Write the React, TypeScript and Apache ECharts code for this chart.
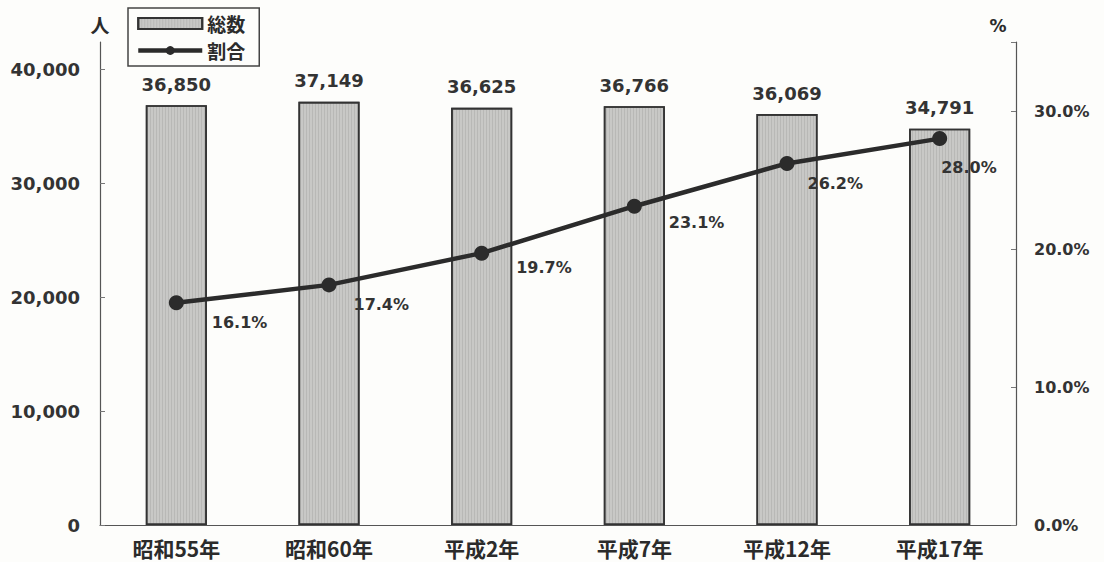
import React, { useEffect, useRef } from "react";
import * as echarts from "echarts";

const categories = ["昭和55年", "昭和60年", "平成2年", "平成7年", "平成12年", "平成17年"];
const totals = [36850, 37149, 36625, 36766, 36069, 34791];
const ratios = [16.1, 17.4, 19.7, 23.1, 26.2, 28.0];
const ratioLabelOffsets = [
  [28, 20],
  [17, 20],
  [27, 14],
  [27, 16],
  [13, 20],
  [-6, 29],
];

const CJK = "'Noto Sans CJK JP', 'Noto Sans', sans-serif";
const NUM = "'DejaVu Sans', 'Noto Sans', sans-serif";
const INK = "#2b2b2b";

export default function App() {
  const ref = useRef<HTMLDivElement>(null);
  useEffect(() => {
    document.body.style.margin = "0";
    const chart = echarts.init(ref.current!, null, { renderer: "svg" });
    chart.setOption({
      animation: false,
      backgroundColor: "#fdfdfb",
      textStyle: { fontFamily: NUM, color: INK },
      grid: { left: 100, right: 88, top: 42, bottom: 37 },
      legend: {
        left: 128,
        top: 8,
        orient: "vertical",
        borderColor: "#444",
        borderWidth: 1.5,
        padding: [6, 14, 6, 8],
        itemGap: 8,
        itemWidth: 64,
        itemHeight: 11,
        textStyle: { fontSize: 19, color: INK, fontFamily: CJK, fontWeight: "bold" },
        data: [
          { name: "総数", icon: "rect" },
          { name: "割合", lineStyle: { width: 4.5 } },
        ],
      },
      xAxis: {
        type: "category",
        data: categories,
        axisLine: { lineStyle: { color: "#555", width: 1.2 } },
        axisTick: { inside: true, length: 5, alignWithLabel: false, lineStyle: { color: "#777" } },
        axisLabel: { fontSize: 21, color: INK, margin: 12, fontFamily: CJK, fontWeight: "bold" },
      },
      yAxis: [
        {
          type: "value",
          min: 0,
          max: 42400,
          interval: 10000,
          splitLine: { show: false },
          axisLine: { show: true, lineStyle: { color: "#555", width: 1.2 } },
          axisTick: { show: true, inside: true, length: 5, lineStyle: { color: "#777" } },
          axisLabel: {
            fontSize: 18,
            fontWeight: "bold",
            color: "#333",
            margin: 20,
            showMaxLabel: false,
            formatter: (v: number) => (v > 40000 ? "" : v.toLocaleString("en-US")),
          },
          name: "人",
          nameLocation: "end",
          nameGap: 8,
          nameTextStyle: { fontSize: 19, color: INK, fontFamily: CJK, fontWeight: "bold", align: "center" },
        },
        {
          type: "value",
          min: 0,
          max: 35,
          interval: 10,
          position: "right",
          splitLine: { show: false },
          axisLine: { show: true, lineStyle: { color: "#555", width: 1.2 } },
          axisTick: { show: true, inside: true, length: 5, lineStyle: { color: "#777" } },
          axisLabel: {
            fontSize: 16,
            fontWeight: "bold",
            color: "#333",
            margin: 18,
            formatter: (v: number) => (v > 30 ? "" : v.toFixed(1) + "%"),
          },
          name: "%",
          nameLocation: "end",
          nameGap: 8,
          nameTextStyle: { fontSize: 17, fontWeight: "bold", color: INK, align: "center", padding: [0, 36, 0, 0] },
        },
      ],
      series: [
        {
          name: "総数",
          type: "bar",
          data: totals,
          barWidth: "40%",
          itemStyle: {
            color: "#c8c8c6",
            borderColor: "#333",
            borderWidth: 1.6,
            decal: {
              symbol: "rect",
              symbolSize: 1,
              dashArrayX: [1, 2],
              dashArrayY: [4, 0],
              color: "rgba(80,80,80,0.13)",
              rotation: 0,
            },
          },
          label: {
            show: true,
            position: "top",
            distance: 12,
            fontSize: 18,
            fontWeight: "bold",
            color: "#333",
            fontFamily: NUM,
            formatter: (p: any) => Number(p.value).toLocaleString("en-US"),
          },
        },
        {
          name: "割合",
          type: "line",
          yAxisIndex: 1,
          data: ratios.map((v, i) => ({
            value: v,
            label: { offset: ratioLabelOffsets[i] },
          })),
          symbol: "circle",
          symbolSize: 15,
          lineStyle: { color: INK, width: 4.5 },
          itemStyle: { color: INK },
          label: {
            show: true,
            position: "right",
            distance: 0,
            fontSize: 16,
            fontWeight: "bold",
            color: "#333",
            fontFamily: NUM,
            formatter: (p: any) => Number(p.value).toFixed(1) + "%",
          },
        },
      ],
    });
    return () => chart.dispose();
  }, []);
  return <div ref={ref} style={{ width: 1104, height: 562 }} />;
}
